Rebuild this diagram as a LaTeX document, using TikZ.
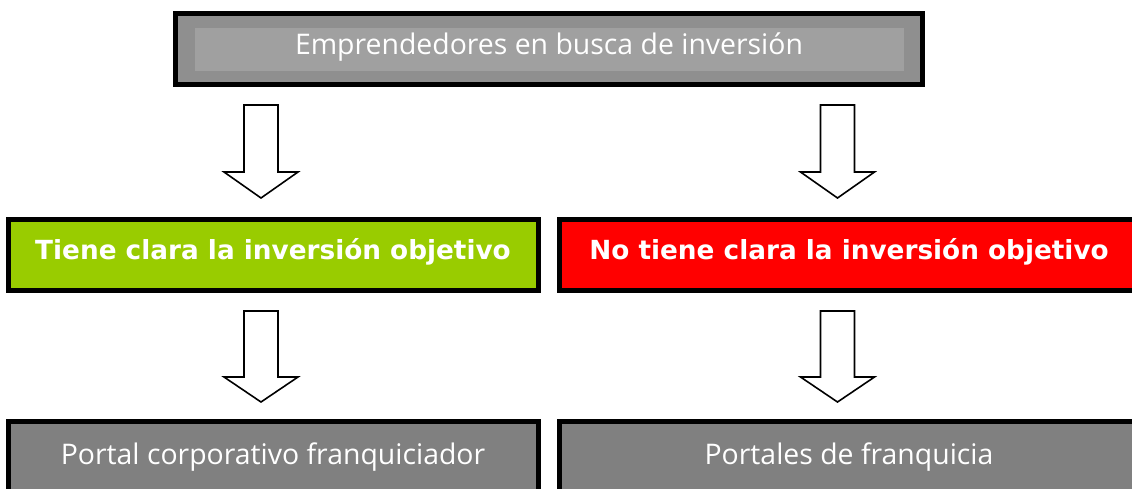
\documentclass[tikz,border=0pt]{standalone}
\usepackage{fontspec}
\setmainfont{DejaVu Sans}
\newfontfamily\regfont{Open Sans}
\definecolor{topouter}{HTML}{8F8F8F}
\definecolor{topinner}{HTML}{A0A0A0}
\definecolor{greenbox}{HTML}{99CC00}
\definecolor{redbox}{HTML}{FF0000}
\definecolor{graybox}{HTML}{808080}
\tikzset{
  boxnode/.style={draw=black, line width=5pt, rectangle, inner sep=0pt},
  boldtext/.style={text=white, font=\fontsize{26.3}{30}\selectfont\bfseries, inner sep=0pt},
  regtext/.style={text=white, font=\regfont\fontsize{28.4}{32}\selectfont, inner sep=0pt},
  blockarrow/.style={draw=black, line width=1.6pt, fill=white, line join=miter}
}
\newcommand{\myarrow}[4]{% x, ytop, ybase, ytip
  \draw[blockarrow] (#1-17,#2) -- (#1+17,#2) -- (#1+17,#3) -- (#1+37,#3) -- (#1,#4) -- (#1-37,#3) -- (#1-17,#3) -- cycle;}
\begin{document}
\begin{tikzpicture}[x=1pt,y=-1pt]
\useasboundingbox (0,0) rectangle (1132,488);
\clip (0,0) rectangle (1132,488);
% top
\node[boxnode, fill=topouter, minimum width=747pt, minimum height=71pt] (top) at (548.5,48.5) {};
\fill[topinner] (195,28) rectangle (904,71);
\node[regtext] (toptext) at (549,47) {Emprendedores en busca de inversión};
% middle
\node[boxnode, fill=greenbox, minimum width=530pt, minimum height=71pt] (midL) at (273,254.5) {};
\node[boldtext] (midLtext) at (273,251.5) {Tiene clara la inversión objetivo};
\node[boxnode, fill=redbox, minimum width=581pt, minimum height=71pt] (midR) at (849.5,254.5) {};
\node[boldtext] (midRtext) at (849,251.5) {No tiene clara la inversión objetivo};
% bottom
\node[boxnode, fill=graybox, minimum width=530pt, minimum height=79pt] (botL) at (273,460.5) {};
\node[regtext] (botLtext) at (273,457.5) {Portal corporativo franquiciador};
\node[boxnode, fill=graybox, minimum width=581pt, minimum height=79pt] (botR) at (849.5,460.5) {};
\node[regtext] (botRtext) at (849,457.5) {Portales de franquicia};
% arrows
\myarrow{261}{105}{172}{198}
\myarrow{837.5}{105}{172}{198}
\myarrow{261}{311}{377}{402}
\myarrow{837.5}{311}{377}{402}
\end{tikzpicture}
\end{document}
